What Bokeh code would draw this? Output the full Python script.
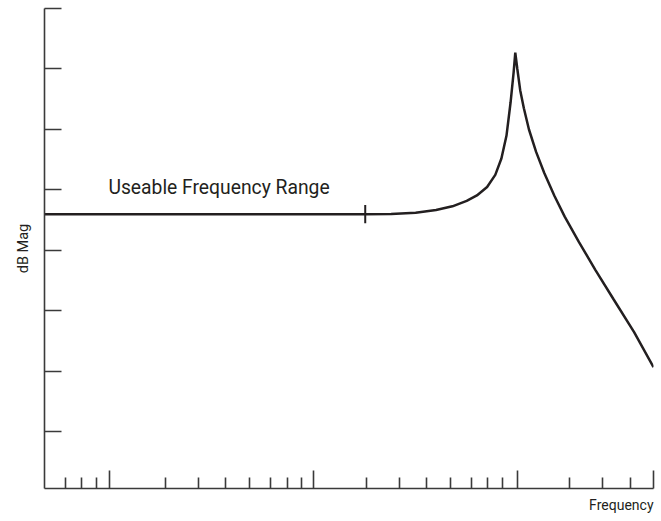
from bokeh.plotting import figure
from bokeh.models import FixedTicker, Range1d, Title
from bokeh.core.properties import value
from bokeh.embed import file_html
from bokeh.resources import INLINE

# frequency position in log decades (0, 1, 2 = decade ticks), magnitude in dB (arbitrary reference)
freq_pos = [-0.318, 1.25, 1.38, 1.50, 1.60, 1.68, 1.75, 1.80, 1.85, 1.89, 1.92, 1.945, 1.965,
            1.98, 1.988, 1.998, 2.012, 2.03, 2.055, 2.09, 2.13, 2.18, 2.23, 2.30, 2.38,
            2.47, 2.57, 2.665]
mag_db = [6.0, 6.0, 6.05, 6.25, 6.7, 7.3, 8.2, 9.1, 10.5, 12.5, 15.2, 19.0, 24.5,
          29.5, 32.7, 30.0, 26.5, 23.5, 20.0, 16.3, 12.8, 9.0, 5.6, 1.4, -3.2,
          -8.1, -13.5, -19.3]

x_major_ticks = [0, 1, 2, 2.665]
x_minor_ticks = [-0.214, -0.135, -0.065,
                 0.273, 0.435, 0.567, 0.688, 0.788, 0.870, 0.940,
                 1.257, 1.420, 1.552, 1.672, 1.773, 1.851, 1.925,
                 2.256, 2.415, 2.550]
y_ticks = [40, 30, 20, 10, 0, -10, -20, -30]

range_end_pos = 1.253
range_label = "Useable Frequency Range"
range_label_pos = (-0.005, 10.4)

FONT = "Roboto"

p = figure(width=655, height=520, output_backend="svg", toolbar_location=None,
           x_range=Range1d(-0.318, 2.665), y_range=Range1d(-39.34, 40),
           min_border_left=44, min_border_right=2, min_border_top=8, min_border_bottom=32)
p.outline_line_color = None
p.xgrid.visible = False
p.ygrid.visible = False
p.background_fill_color = "white"
p.border_fill_color = "white"

axis_col = "#3a3a3a"
xa = p.xaxis[0]
xa.ticker = FixedTicker(ticks=x_major_ticks, minor_ticks=x_minor_ticks)
xa.major_tick_in = 18
xa.major_tick_out = 0
xa.minor_tick_in = 11
xa.minor_tick_out = 0
xa.major_label_text_font_size = "0px"
xa.major_label_standoff = 0
xa.axis_line_color = axis_col
xa.axis_line_width = 1.6
xa.major_tick_line_color = axis_col
xa.major_tick_line_width = 1.6
xa.minor_tick_line_color = axis_col
xa.minor_tick_line_width = 1.6

ya = p.yaxis[0]
ya.ticker = FixedTicker(ticks=y_ticks, minor_ticks=[])
ya.major_tick_in = 17
ya.major_tick_out = 0
ya.minor_tick_in = 0
ya.minor_tick_out = 0
ya.major_label_text_font_size = "0px"
ya.major_label_standoff = 0
ya.axis_line_color = axis_col
ya.axis_line_width = 1.6
ya.major_tick_line_color = axis_col
ya.major_tick_line_width = 1.6
ya.axis_label = "dB Mag"
ya.axis_label_text_font = FONT
ya.axis_label_text_font_size = "14.5px"
ya.axis_label_text_font_style = "normal"
ya.axis_label_text_color = "#231f20"
ya.axis_label_standoff = 13

p.add_layout(Title(text="Frequency", align="right", text_font=FONT, text_font_size="14px",
                   text_font_style="normal", text_color="#231f20", offset=0, standoff=13), "below")

p.line(freq_pos, mag_db, line_color="#231f20", line_width=2.5)
p.segment(x0=[range_end_pos], y0=[mag_db[0] - 1.5], x1=[range_end_pos], y1=[mag_db[0] + 1.5],
          line_color="#231f20", line_width=2)
p.text(x=[range_label_pos[0]], y=[range_label_pos[1]], text=[range_label],
       text_font=value(FONT), text_font_size="19.3px", text_color="#231f20",
       text_baseline="alphabetic", text_align="left")

open("out.html", "w").write(file_html(p, INLINE))
